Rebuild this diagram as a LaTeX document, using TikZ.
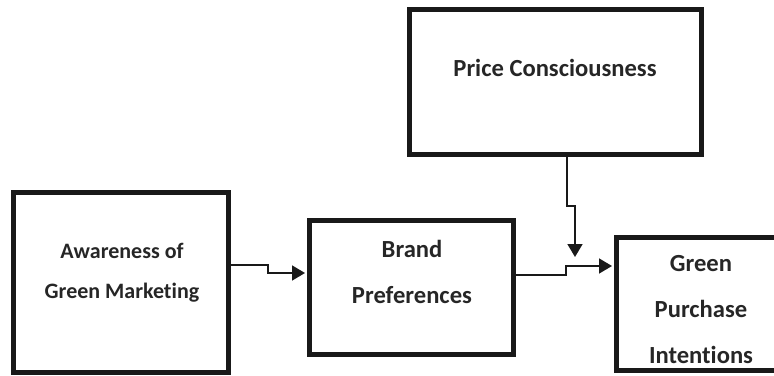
\documentclass[tikz,border=0pt]{standalone}
\usepackage{fontspec}
\setmainfont{Carlito}[Ligatures={NoCommon,NoRare}]
\usetikzlibrary{arrows.meta}

\tikzset{
  box/.style={draw=black!90, line width=5pt, rectangle, inner sep=0pt},
  lbl/.style={align=center, text=black!85, font=\bfseries\fontsize{22}{40}\selectfont},
  biglbl/.style={lbl, font=\bfseries\fontsize{24.6}{45.5}\selectfont},
  link/.style={draw=black!90, line width=1.6pt},
  tip/.style={-{Triangle[length=13pt,width=15pt]}, shorten >=2pt}
}

\begin{document}
\begin{tikzpicture}[x=1pt,y=-1pt]
  \useasboundingbox (0,0) rectangle (774,375);
  \clip (0,0) rectangle (774,375);

  % boxes
  \node[box, minimum width=215pt, minimum height=180pt] (aware) at (121,282.5) {};
  \node[box, minimum width=204pt, minimum height=134pt] (brand) at (411.5,287.5) {};
  \node[box, minimum width=292pt, minimum height=145pt] (price) at (555.5,82) {};
  \node[box, minimum width=168pt, minimum height=133pt] (green) at (700.5,304) {};

  % texts
  \node[lbl] (awaretxt) at (122,272.4) {Awareness of\\Green Marketing};
  \node[biglbl] (brandtxt) at (412,272) {Brand\\Preferences};
  \node[biglbl] (pricetxt) at (555,68) {Price Consciousness};
  \node[biglbl, font=\bfseries\fontsize{24.6}{46}\selectfont] (greentxt) at (701,310) {Green\\Purchase\\Intentions};

  % steps in the links
  \coordinate (a1) at (268,265); \coordinate (a2) at (268,273);
  \coordinate (b1) at (566,275); \coordinate (b2) at (566,266);
  \coordinate (p1) at (567,206); \coordinate (p2) at (575,206);
  \coordinate (pend) at (575,259);

  \draw[link, tip] (aware.east |- a1) -- (a1) -- (a2) -- (brand.west |- a2);
  \draw[link, tip] (brand.east |- b1) -- (b1) -- (b2) -- (green.west |- b2);
  \draw[link, tip] (price.south -| p1) -- (p1) -- (p2) -- (pend);
\end{tikzpicture}
\end{document}
